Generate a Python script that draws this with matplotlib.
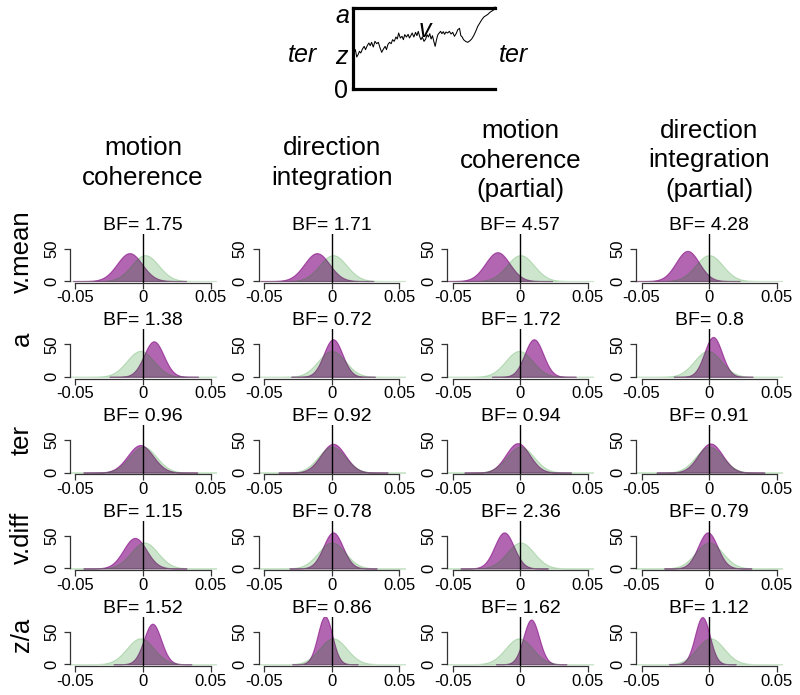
import numpy as np
import matplotlib
matplotlib.use("Agg")
import matplotlib.pyplot as plt

plt.rcParams['font.family'] = ['Liberation Sans', 'DejaVu Sans']

# ---------------- data ----------------
columns = ["motion\ncoherence", "direction\nintegration",
           "motion\ncoherence\n(partial)", "direction\nintegration\n(partial)"]
rows = ["v.mean", "a", "ter", "v.diff", "z/a"]
bf = [["1.75", "1.71", "4.57", "4.28"],
      ["1.38", "0.72", "1.72", "0.8"],
      ["0.96", "0.92", "0.94", "0.91"],
      ["1.15", "0.78", "2.36", "0.79"],
      ["1.52", "0.86", "1.62", "1.12"]]
post_mean = [[-0.010, -0.011, -0.017, -0.016],
             [0.008, 0.001, 0.010, 0.003],
             [-0.002, 0.001, -0.002, 0.001],
             [-0.006, 0.001, -0.012, -0.001],
             [0.007, -0.005, 0.008, -0.005]]
post_sd = [[0.0093, 0.0093, 0.0090, 0.0086],
           [0.0073, 0.0069, 0.0069, 0.0065],
           [0.0094, 0.0090, 0.0088, 0.0089],
           [0.0085, 0.0072, 0.0072, 0.0072],
           [0.0064, 0.0054, 0.0058, 0.0055]]
prior_mean = [[0.0015, 0.001, 0.0, 0.0],
              [-0.002, 0.0, -0.001, -0.001],
              [0.0, 0.0, 0.0, 0.0],
              [0.001, 0.0, 0.0, 0.0],
              [-0.002, 0.001, -0.001, 0.001]]
prior_sd = 0.01
x_ticks = [-0.05, 0, 0.05]
x_tick_labels = ["-0.05", "0", "0.05"]
y_ticks = [0, 50]

# diffusion path (time, evidence) for the schematic
walk_t = [0, 3, 7, 11, 15, 19, 23, 28, 33, 37, 42, 47, 51, 55, 60, 65, 70, 75, 80, 85,
          90, 95, 99, 103, 108, 113, 117, 122, 127, 131, 135, 140, 145, 149, 153, 158,
          163, 167, 171, 175, 180, 185, 189, 193, 197, 201, 205, 210, 215, 219, 223, 227,
          231, 235, 239, 243, 247, 251, 255, 259, 263, 267, 271, 275, 280, 285, 290, 295,
          300, 305, 310, 315, 319, 323, 327, 333, 339, 345, 351, 357, 363, 369, 375, 381,
          387, 393, 399, 405, 411, 417, 420]
walk_y = [185, 160, 150, 172, 165, 155, 160, 148, 140, 150, 138, 130, 138, 128, 142, 125,
          132, 128, 145, 158, 148, 140, 150, 135, 128, 132, 120, 125, 112, 118, 100, 115,
          110, 120, 105, 112, 104, 115, 108, 100, 112, 98, 108, 95, 110, 120, 112, 125,
          118, 105, 112, 102, 118, 108, 125, 140, 120, 105, 100, 95, 102, 96, 104, 97,
          100, 95, 103, 98, 110, 102, 90, 86, 108, 112, 120, 125, 128, 124, 118, 108, 95,
          80, 70, 60, 52, 48, 44, 38, 34, 30, 22]

# ---------------- layout ----------------
W, H = 800, 695
fig = plt.figure(figsize=(W / 100, H / 100), dpi=100)


def fx(px):
    return px / W


def fy(py):
    return 1 - py / H


col_zero = [143 + c * 188.7 for c in range(4)]
row_zero = [281 + r * 95.8 for r in range(5)]
row_label_offset = [29, 38, 33, 31, 29]
xlim = (-0.054, 0.054)
ylim = (-2.8, 72.8)
px_per_x = 135 / 0.1
px_per_y = 32.5 / 50
ax_w = (xlim[1] - xlim[0]) * px_per_x
ax_h = (ylim[1] - ylim[0]) * px_per_y

purple = (0.5, 0.0, 0.5, 0.6)
green = (0.0, 0.5, 0.0, 0.2)


def npdf(x, m, s):
    return np.exp(-0.5 * ((x - m) / s) ** 2) / (s * np.sqrt(2 * np.pi))


for r in range(5):
    for c in range(4):
        left = col_zero[c] - ax_w / 2
        bottom = row_zero[r] - ylim[0] * px_per_y
        ax = fig.add_axes([fx(left), fy(bottom), ax_w / W, ax_h / H])
        m, s = post_mean[r][c], post_sd[r][c]
        xp = np.linspace(m - 4.5 * s, m + 4.5 * s, 400)
        ax.fill_between(xp, npdf(xp, m, s), 0, facecolor=purple,
                        edgecolor=purple, lw=0.8)
        xg = np.linspace(-0.065, 0.065, 600)
        ax.fill_between(xg, npdf(xg, prior_mean[r][c], prior_sd), 0,
                        facecolor=green, edgecolor=green, lw=0.8)
        ax.axvline(0, color='black', lw=1.0)
        ax.set_xlim(xlim)
        ax.set_ylim(ylim)
        for sp in ['top', 'right']:
            ax.spines[sp].set_visible(False)
        ax.spines['left'].set_bounds(0, 50)
        ax.spines['bottom'].set_bounds(-0.05, 0.05)
        for sp in ['left', 'bottom']:
            ax.spines[sp].set_linewidth(0.9)
            ax.spines[sp].set_color('#333333')
        ax.set_xticks(x_ticks)
        ax.set_xticklabels(x_tick_labels)
        ax.set_yticks(y_ticks)
        ax.set_yticklabels([str(v) for v in y_ticks], rotation=90, va='center')
        ax.tick_params(axis='both', direction='out', length=4, width=0.9,
                       color='#333333', labelsize=12)
        ax.tick_params(axis='x', pad=1.5)
        ax.tick_params(axis='y', pad=4)
        ax.patch.set_alpha(0)
        ax.set_title("BF= " + bf[r][c], fontsize=14, pad=2)

# column headers
for c, t in enumerate(columns):
    n = t.count("\n") + 1
    fig.text(fx(col_zero[c]), fy(163 - 2.5 * (n - 2)), t, ha='center', va='center',
             fontsize=18.7, linespacing=1.31, multialignment='center')

# row labels
for r, t in enumerate(rows):
    fig.text(fx(22), fy(row_zero[r] - row_label_offset[r]), t, rotation=90,
             ha='center', va='center', fontsize=18.5)

# schematic of the diffusion process
bl, br, bt, bb = 353, 495, 8, 89
ax0 = fig.add_axes([fx(bl), fy(bb), (br - bl) / W, (bb - bt) / H])
ax0.set_xlim(0, 1)
ax0.set_ylim(0, 1)
ax0.set_xticks([])
ax0.set_yticks([])
ax0.spines['right'].set_visible(False)
for sp in ['left', 'top', 'bottom']:
    ax0.spines[sp].set_linewidth(2.3)
ax0.patch.set_alpha(0)
wt = np.array(walk_t) / 420.0
wy = (268 - np.array(walk_y)) / 243.0
ax0.plot(wt, wy, color='black', lw=0.75, clip_on=False)

fig.text(fx(342), fy(16), "a", style='italic', fontsize=18, ha='center', va='center')
fig.text(fx(341), fy(57), "z", style='italic', fontsize=18, ha='center', va='center')
fig.text(fx(341), fy(91), "0", fontsize=18, ha='center', va='center')
fig.text(fx(425), fy(30), "v", style='italic', fontsize=18, ha='center', va='center')
fig.text(fx(302), fy(55), "ter", style='italic', fontsize=18, ha='center', va='center')
fig.text(fx(513), fy(55), "ter", style='italic', fontsize=18, ha='center', va='center')

fig.savefig("out.png", dpi=100)
